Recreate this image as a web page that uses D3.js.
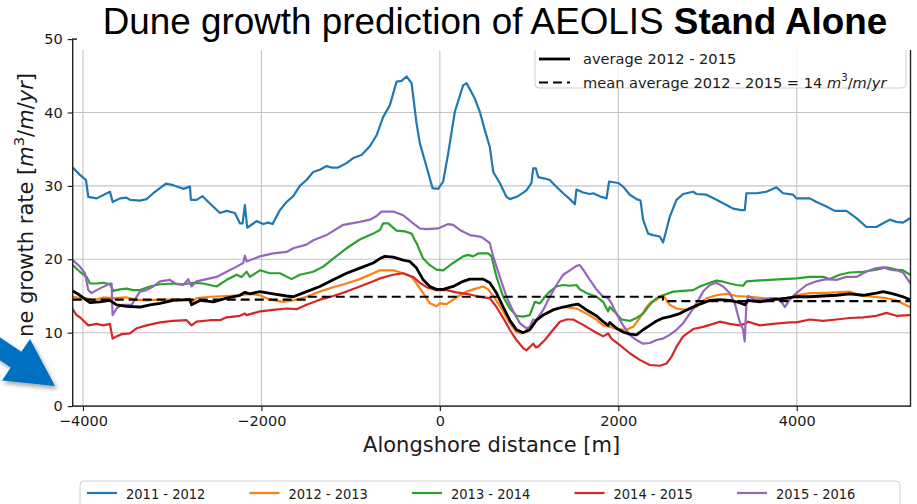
<!DOCTYPE html>
<html>
<head>
<meta charset="utf-8">
<script src="https://cdn.jsdelivr.net/npm/d3@7"></script>
<style>
  html, body { margin: 0; padding: 0; background: #fff; }
  svg { display: block; }
  text { font-family: "DejaVu Sans", sans-serif; fill: #1a1a1a; }
</style>
</head>
<body>
<svg id="chart" width="917" height="504"></svg>
<script>
// ---- data: alongshore distance [m], dune growth rate [m3/m/yr] ----
const seriesNames = ["2011 - 2012", "2012 - 2013", "2013 - 2014", "2014 - 2015", "2015 - 2016"];
const seriesColors = ["#1f77b4", "#ff7f0e", "#2ca02c", "#d62728", "#9467bd"];

const s2011 = [[-4115,32.5],[-4034,31.5],[-3966,30.8],[-3940,28.5],[-3847,28.3],[-3697,29.2],[-3667,27.8],[-3585,28.3],[-3511,28.4],[-3473,28.1],[-3361,28.0],[-3287,28.2],[-3212,29.0],[-3137,29.7],[-3070,30.3],[-2988,30.1],[-2876,29.6],[-2801,29.9],[-2790,28.1],[-2726,28.1],[-2659,28.6],[-2577,27.6],[-2465,26.3],[-2390,26.6],[-2297,26.3],[-2241,24.9],[-2211,24.9],[-2185,27.4],[-2159,24.3],[-2054,25.2],[-1979,24.8],[-1923,25.0],[-1874,24.8],[-1793,26.7],[-1718,27.8],[-1643,28.6],[-1569,30.0],[-1494,30.8],[-1420,31.9],[-1345,32.2],[-1270,32.7],[-1214,32.5],[-1140,32.5],[-1046,33.1],[-971,33.8],[-878,34.2],[-784,35.4],[-709,36.9],[-635,39.4],[-560,41.0],[-485,44.2],[-429,44.3],[-373,44.9],[-317,44.0],[-261,38.5],[-224,35.8],[-149,32.6],[-82,29.7],[-19,29.6],[37,30.6],[93,34.4],[168,40.1],[261,43.7],[299,44.0],[392,41.9],[448,40.1],[504,37.6],[560,35.3],[598,31.9],[672,30.4],[747,28.5],[784,28.2],[877,28.6],[971,29.4],[1027,30.4],[1046,32.4],[1076,32.4],[1102,31.2],[1176,31.0],[1232,30.8],[1289,30.1],[1382,29.0],[1457,28.2],[1513,27.5],[1531,29.5],[1606,29.1],[1681,28.9],[1718,29.0],[1811,28.5],[1868,28.3],[1897,30.6],[1998,30.4],[2054,29.9],[2129,28.8],[2204,28.2],[2249,28.0],[2278,25.4],[2334,23.5],[2390,23.3],[2465,23.1],[2502,22.3],[2539,24.0],[2577,25.8],[2652,28.1],[2727,28.9],[2839,29.2],[2876,28.9],[2988,28.8],[3100,28.1],[3212,27.4],[3287,26.9],[3380,26.7],[3417,26.7],[3436,29.0],[3548,29.0],[3660,29.2],[3772,29.8],[3847,29.0],[3959,28.8],[3996,28.3],[4146,28.3],[4221,27.8],[4333,27.2],[4426,26.6],[4557,26.6],[4669,25.6],[4781,24.4],[4893,24.4],[4968,24.9],[5042,25.4],[5117,25.1],[5191,25.0],[5270,25.6]];

const s2012 = [[-4115,14.9],[-4034,14.7],[-3959,14.7],[-3884,14.4],[-3773,14.8],[-3660,14.7],[-3511,14.8],[-3399,14.5],[-3287,14.4],[-3137,14.5],[-2988,14.5],[-2801,14.5],[-2783,14.1],[-2727,14.7],[-2577,14.9],[-2390,15.0],[-2241,15.1],[-2129,15.3],[-2017,15.1],[-1905,14.5],[-1755,14.2],[-1643,14.4],[-1494,14.9],[-1345,15.6],[-1195,16.2],[-1046,16.7],[-897,17.3],[-747,18.1],[-672,18.5],[-523,18.5],[-411,18.1],[-317,17.6],[-261,16.7],[-187,15.4],[-112,14.0],[-37,13.6],[0,14.0],[75,13.9],[149,14.5],[224,15.1],[299,15.6],[373,15.9],[486,16.3],[542,15.9],[616,14.7],[710,12.9],[784,11.3],[859,10.1],[915,9.9],[1008,10.6],[1083,11.7],[1158,12.4],[1270,13.2],[1382,13.5],[1531,13.3],[1643,12.6],[1755,11.8],[1830,11.0],[1905,10.8],[1979,10.5],[2092,10.4],[2166,10.8],[2241,12.0],[2316,13.5],[2372,14.2],[2428,14.5],[2502,15.1],[2577,13.8],[2652,13.3],[2764,13.1],[2876,13.5],[2988,14.7],[3100,15.1],[3212,15.3],[3324,15.0],[3473,14.9],[3623,14.7],[3772,14.5],[3922,14.7],[3996,15.1],[4146,15.4],[4295,15.4],[4445,15.5],[4594,15.6],[4706,15.1],[4856,14.9],[5005,14.7],[5117,14.4],[5270,13.5]];

const s2013 = [[-4115,19.2],[-4034,18.3],[-3959,17.6],[-3922,16.7],[-3847,16.7],[-3773,16.8],[-3698,16.6],[-3660,15.7],[-3586,15.9],[-3511,16.0],[-3436,15.8],[-3361,15.8],[-3249,16.3],[-3137,16.6],[-2988,16.7],[-2876,16.6],[-2764,16.8],[-2652,16.7],[-2502,16.3],[-2390,17.2],[-2278,17.9],[-2222,17.6],[-2166,18.3],[-2129,17.6],[-2017,18.5],[-1905,18.1],[-1793,18.1],[-1662,17.3],[-1569,17.9],[-1420,18.3],[-1307,19.0],[-1195,20.1],[-1046,21.5],[-897,22.7],[-747,23.5],[-672,24.0],[-635,24.9],[-579,24.9],[-485,23.9],[-392,23.8],[-317,23.5],[-280,22.6],[-261,22.2],[-187,20.1],[-112,19.2],[-37,18.6],[37,18.5],[149,19.5],[261,20.4],[317,20.6],[373,20.4],[429,20.8],[541,20.8],[579,20.4],[635,17.6],[710,14.9],[784,13.3],[859,12.3],[934,12.2],[1008,12.4],[1064,14.2],[1121,14.0],[1177,14.9],[1233,15.6],[1307,16.3],[1382,16.5],[1457,16.4],[1531,16.5],[1569,15.9],[1643,15.4],[1755,14.9],[1830,14.2],[1886,12.9],[1905,13.5],[1979,12.6],[2036,11.8],[2129,11.6],[2204,12.0],[2278,12.6],[2353,13.8],[2428,14.7],[2502,15.1],[2615,15.6],[2727,15.7],[2839,15.8],[2914,16.3],[3025,16.8],[3100,17.1],[3175,16.95],[3249,16.7],[3324,16.5],[3399,16.4],[3436,17.0],[3548,17.1],[3698,17.2],[3847,17.3],[3996,17.4],[4146,17.6],[4295,17.6],[4370,17.3],[4482,17.9],[4594,18.2],[4744,18.3],[4893,18.6],[5005,18.9],[5117,18.6],[5192,18.5],[5270,17.9]];

const s2014 = [[-4115,13.2],[-4071,12.4],[-4034,12.1],[-3940,11.0],[-3847,11.2],[-3772,11.0],[-3698,11.2],[-3668,9.2],[-3623,9.5],[-3567,9.8],[-3474,9.9],[-3399,10.6],[-3287,11.0],[-3137,11.4],[-2988,11.6],[-2839,11.7],[-2783,11.0],[-2727,11.5],[-2577,11.7],[-2465,11.7],[-2390,12.1],[-2241,12.3],[-2185,12.6],[-2166,12.4],[-2017,12.9],[-1868,13.1],[-1718,13.3],[-1606,13.2],[-1494,13.8],[-1345,14.5],[-1195,15.0],[-1046,15.6],[-897,16.3],[-747,17.0],[-672,17.4],[-523,17.9],[-411,18.1],[-299,17.6],[-224,16.8],[-149,16.2],[-37,15.8],[75,15.8],[187,15.5],[299,15.3],[411,15.0],[486,14.8],[560,14.7],[635,13.5],[710,12.0],[784,10.4],[859,9.0],[934,7.9],[971,7.6],[1046,8.5],[1076,8.0],[1102,8.1],[1177,9.0],[1270,10.4],[1345,11.5],[1420,11.8],[1494,11.8],[1569,11.3],[1643,10.8],[1755,10.0],[1830,9.5],[1886,9.9],[1923,9.2],[2017,8.3],[2129,7.2],[2241,6.3],[2353,5.6],[2465,5.5],[2540,5.8],[2596,6.7],[2652,8.1],[2727,9.5],[2839,10.5],[2951,10.8],[3063,11.2],[3137,11.5],[3249,11.2],[3361,11.0],[3417,11.2],[3455,11.5],[3586,11.0],[3735,11.2],[3922,11.4],[3996,11.4],[4146,11.8],[4295,11.6],[4445,11.8],[4594,12.0],[4744,12.1],[4893,12.3],[5005,12.7],[5117,12.3],[5270,12.4]];

const s2015 = [[-4115,19.9],[-4034,19.0],[-3978,18.1],[-3940,15.8],[-3903,15.4],[-3847,15.8],[-3698,16.7],[-3679,16.7],[-3668,12.4],[-3623,13.3],[-3567,13.8],[-3455,13.8],[-3361,15.6],[-3287,15.8],[-3212,16.3],[-3137,17.0],[-3025,17.2],[-2951,16.6],[-2876,16.5],[-2820,17.3],[-2783,16.3],[-2727,17.0],[-2615,17.3],[-2502,17.6],[-2390,18.3],[-2278,19.0],[-2204,19.5],[-2185,20.5],[-2166,19.7],[-2017,20.4],[-1868,20.8],[-1718,21.0],[-1643,21.5],[-1494,22.0],[-1419,22.6],[-1270,23.3],[-1083,24.7],[-897,25.1],[-784,25.4],[-709,25.9],[-654,26.5],[-523,26.5],[-411,26.0],[-299,24.9],[-224,24.2],[-149,24.1],[-19,24.2],[93,24.8],[149,24.7],[224,24.0],[336,23.3],[448,23.1],[486,22.9],[560,22.2],[598,20.4],[672,17.6],[747,14.9],[822,12.9],[896,11.3],[971,10.6],[1008,10.8],[1046,11.8],[1083,11.7],[1158,13.1],[1233,14.9],[1307,16.5],[1382,17.9],[1457,18.5],[1531,19.1],[1569,19.2],[1606,18.6],[1681,17.2],[1755,15.9],[1830,14.9],[1886,14.7],[1923,14.0],[1979,12.6],[2054,11.0],[2129,9.7],[2204,9.0],[2278,8.5],[2353,8.6],[2428,9.0],[2502,9.2],[2577,9.7],[2652,10.4],[2727,11.3],[2801,12.6],[2876,14.0],[2951,15.6],[3025,16.5],[3100,16.8],[3175,16.3],[3249,15.4],[3305,14.0],[3361,11.5],[3399,10.4],[3417,8.8],[3436,14.0],[3455,15.0],[3530,14.5],[3623,14.5],[3698,14.7],[3772,14.7],[3828,14.2],[3866,13.5],[3922,14.5],[3996,15.4],[4109,16.5],[4221,17.0],[4333,17.3],[4445,17.2],[4557,17.6],[4669,17.6],[4744,18.1],[4818,18.5],[4893,18.8],[4968,18.9],[5042,18.6],[5117,18.5],[5192,18.2],[5270,16.8]];

// average of 2012-2013, 2013-2014 and 2014-2015
const average2012_2015 = [[-4115,15.7],[-4034,15.1],[-3922,14.1],[-3810,14.2],[-3698,14.4],[-3623,13.8],[-3511,13.6],[-3361,13.5],[-3249,13.8],[-3137,14.0],[-2988,14.4],[-2801,14.5],[-2783,13.8],[-2689,14.4],[-2540,14.2],[-2390,14.7],[-2241,15.1],[-2185,15.5],[-2129,15.3],[-2017,15.6],[-1868,15.3],[-1718,15.0],[-1643,14.9],[-1494,15.6],[-1345,16.3],[-1195,17.2],[-1046,18.1],[-897,18.8],[-747,19.5],[-672,20.1],[-616,20.4],[-523,20.3],[-411,19.9],[-336,19.7],[-261,18.8],[-187,17.2],[-112,16.3],[-37,15.9],[37,15.9],[149,16.3],[261,17.0],[336,17.3],[486,17.3],[560,16.8],[635,15.4],[710,13.5],[784,11.7],[859,10.4],[934,10.0],[1008,10.4],[1083,11.7],[1158,12.4],[1270,13.1],[1382,13.5],[1494,13.8],[1550,13.9],[1643,13.1],[1755,12.3],[1830,11.5],[1886,11.0],[1905,11.4],[1979,10.6],[2054,10.1],[2129,9.8],[2204,9.7],[2278,10.4],[2353,11.0],[2428,11.6],[2502,12.0],[2577,12.2],[2689,12.6],[2801,13.3],[2914,13.9],[3025,14.4],[3137,14.5],[3249,14.4],[3361,14.1],[3417,13.8],[3455,14.4],[3586,14.2],[3735,14.5],[3884,14.7],[3996,14.9],[4146,14.9],[4295,15.0],[4445,15.1],[4594,15.3],[4744,15.1],[4893,15.4],[4968,15.6],[5080,15.3],[5192,14.9],[5270,14.5]];

// mean of the average per stretch of coast (step line)
const meanAverage = [[-4115,14.5],[-1500,14.9],[2500,14.3],[5275,14.3]];

const xTicks = [-4000, -2000, 0, 2000, 4000];
const yTicks = [0, 10, 20, 30, 40, 50];
const xDomain = [-4115, 5275];
const yDomain = [0, 50];

// ---- layout ----
const plot = { left: 72.7, right: 910.5, top: 39.1, bottom: 406.1 };
const svg = d3.select("#chart");

const x = d3.scaleLinear().domain(xDomain).range([plot.left, plot.right]);
const y = d3.scaleLinear().domain(yDomain).range([plot.bottom, plot.top]);

const defs = svg.append("defs");
defs.append("clipPath").attr("id", "plotClip")
  .append("rect")
  .attr("x", plot.left).attr("y", plot.top)
  .attr("width", plot.right - plot.left).attr("height", plot.bottom - plot.top);

const shadow = defs.append("filter").attr("id", "arrowShadow")
  .attr("x", "-30%").attr("y", "-30%").attr("width", "160%").attr("height", "160%");
shadow.append("feDropShadow")
  .attr("dx", 2).attr("dy", 3).attr("stdDeviation", 2.2)
  .attr("flood-color", "#000").attr("flood-opacity", 0.35);

// grid
const grid = svg.append("g").attr("stroke", "#c4c4c4").attr("stroke-width", 1.1);
grid.selectAll("line.gx").data(xTicks).join("line")
  .attr("x1", d => x(d)).attr("x2", d => x(d))
  .attr("y1", plot.top).attr("y2", plot.bottom);
grid.selectAll("line.gy").data(yTicks).join("line")
  .attr("x1", plot.left).attr("x2", plot.right)
  .attr("y1", d => y(d)).attr("y2", d => y(d));

// series
const line = d3.line().x(d => x(d[0])).y(d => y(d[1]));
const seriesData = [s2011, s2012, s2013, s2014, s2015];
const lines = svg.append("g").attr("clip-path", "url(#plotClip)")
  .attr("fill", "none").attr("stroke-linejoin", "round").attr("stroke-linecap", "round");

lines.selectAll("path.series").data(seriesData).join("path")
  .attr("class", "series")
  .attr("d", line)
  .attr("stroke", (d, i) => seriesColors[i])
  .attr("stroke-width", 2.2);

lines.append("path")
  .attr("d", line(average2012_2015))
  .attr("stroke", "#000").attr("stroke-width", 2.8);

lines.append("path")
  .attr("d", d3.line().x(d => x(d[0])).y(d => y(d[1])).curve(d3.curveStepAfter)(meanAverage))
  .attr("stroke", "#000").attr("stroke-width", 2.2)
  .attr("stroke-dasharray", "9,5").attr("stroke-linecap", "butt");

// axes
const tickFmt = d3.format("d");
const xAxis = svg.append("g").attr("transform", `translate(0,${plot.bottom})`)
  .call(d3.axisBottom(x).tickValues(xTicks).tickFormat(tickFmt).tickSize(5).tickSizeOuter(0).tickPadding(5));
const yAxis = svg.append("g").attr("transform", `translate(${plot.left},0)`)
  .call(d3.axisLeft(y).tickValues(yTicks).tickFormat(tickFmt).tickSize(5).tickSizeOuter(0).tickPadding(5));
[xAxis, yAxis].forEach(g => {
  g.select(".domain").remove();
  g.selectAll(".tick line").attr("stroke", "#222").attr("stroke-width", 1.2);
  g.selectAll(".tick text").attr("fill", "#222")
    .style("font-family", "'DejaVu Sans', sans-serif").style("font-size", "14.5px");
});

// spines
const spines = svg.append("g").attr("stroke", "#222").attr("stroke-width", 1.4).attr("fill", "none");
spines.append("rect")
  .attr("x", plot.left).attr("y", plot.top)
  .attr("width", plot.right - plot.left).attr("height", plot.bottom - plot.top);

// axis labels
svg.append("text")
  .attr("x", (plot.left + plot.right) / 2).attr("y", 452)
  .attr("text-anchor", "middle").style("font-size", "21px")
  .text("Alongshore distance [m]");

const yLab = svg.append("text")
  .attr("transform", "translate(33,73) rotate(-90)")
  .attr("text-anchor", "end").style("font-size", "21px");
function unitSpans(t, size) {
  t.append("tspan").style("font-style", "italic").text("m");
  t.append("tspan").attr("dy", -0.42 * size).style("font-size", (size * 0.7) + "px").text("3");
  t.append("tspan").attr("dy", 0.42 * size).text("/");
  t.append("tspan").style("font-style", "italic").text("m");
  t.append("tspan").text("/");
  t.append("tspan").style("font-style", "italic").text("yr");
}
yLab.append("tspan").text("ne growth rate [");
unitSpans(yLab, 21);
yLab.append("tspan").text("]");

// legend inside the axes (upper right)
const lg = svg.append("g");
lg.append("rect")
  .attr("x", 535).attr("y", 38).attr("width", 371).attr("height", 50).attr("rx", 4)
  .attr("fill", "#fff").attr("fill-opacity", 0.8)
  .attr("stroke", "#cfcfcf").attr("stroke-width", 1);
const lgRows = [
  { label: "average 2012 - 2015", dash: null, y: 59 },
  { label: "mean average 2012 - 2015 = 14 ", dash: "9,5", y: 82.5 }
];
lgRows.forEach((r, i) => {
  lg.append("line")
    .attr("x1", 539).attr("x2", 570).attr("y1", r.y).attr("y2", r.y)
    .attr("stroke", "#000").attr("stroke-width", i === 0 ? 2.8 : 2.2)
    .attr("stroke-dasharray", r.dash);
  const t = lg.append("text").attr("x", 583).attr("y", r.y + 5).style("font-size", "14.6px");
  t.append("tspan").text(r.label);
  if (i === 1) unitSpans(t, 14.6);
});

// legend below the axes
const bl = svg.append("g");
bl.append("rect")
  .attr("x", 80).attr("y", 481).attr("width", 820).attr("height", 40).attr("rx", 4)
  .attr("fill", "#fff").attr("stroke", "#cfcfcf").attr("stroke-width", 1);
const blItems = bl.selectAll("g.item").data(seriesNames).join("g")
  .attr("class", "item")
  .attr("transform", (d, i) => `translate(${87 + i * 162.5},493)`);
blItems.append("line")
  .attr("x1", 0).attr("x2", 30).attr("y1", 0).attr("y2", 0)
  .attr("stroke", (d, i) => seriesColors[i]).attr("stroke-width", 2.2);
blItems.append("text")
  .attr("x", 39).attr("y", 5.5)
  .style("font-family", "'DejaVu Sans Condensed', 'DejaVu Sans', sans-serif")
  .style("font-stretch", "condensed")
  .style("font-size", "14.5px")
  .text(d => d);

// title panel
svg.append("rect").attr("x", 77).attr("y", 0).attr("width", 840).attr("height", 50).attr("fill", "#fff");
const title = svg.append("text")
  .attr("x", 102.7).attr("y", 33.5)
  .style("font-family", "'Liberation Sans', Arial, sans-serif")
  .style("font-size", "32px").style("fill", "#000");
title.append("tspan").text("Dune growth prediction of AEOLIS ");
title.append("tspan").style("font-weight", "bold").text("Stand Alone");
const tw = title.node().getComputedTextLength();
title.style("font-size", (32 * 785 / tw).toFixed(2) + "px");

// pointer arrow
const tip = [55, 386], ang = 34 * Math.PI / 180;
const u = [Math.cos(ang), Math.sin(ang)], n = [-Math.sin(ang), Math.cos(ang)];
const headLen = 47, headHalf = 25, shaftHalf = 9.5, shaftLen = 80;
const base = [tip[0] - headLen * u[0], tip[1] - headLen * u[1]];
const P = (p, a, v, b, w) => [p[0] + a * v[0] + b * w[0], p[1] + a * v[1] + b * w[1]];
const arrowPts = [
  tip,
  P(base, 0, u, headHalf, n),
  P(base, 0, u, shaftHalf, n),
  P(base, -shaftLen, u, shaftHalf, n),
  P(base, -shaftLen, u, -shaftHalf, n),
  P(base, 0, u, -shaftHalf, n),
  P(base, 0, u, -headHalf, n)
];
svg.append("path")
  .attr("d", d3.line()(arrowPts) + "Z")
  .attr("fill", "#0070c0")
  .attr("filter", "url(#arrowShadow)");
</script>
</body>
</html>
